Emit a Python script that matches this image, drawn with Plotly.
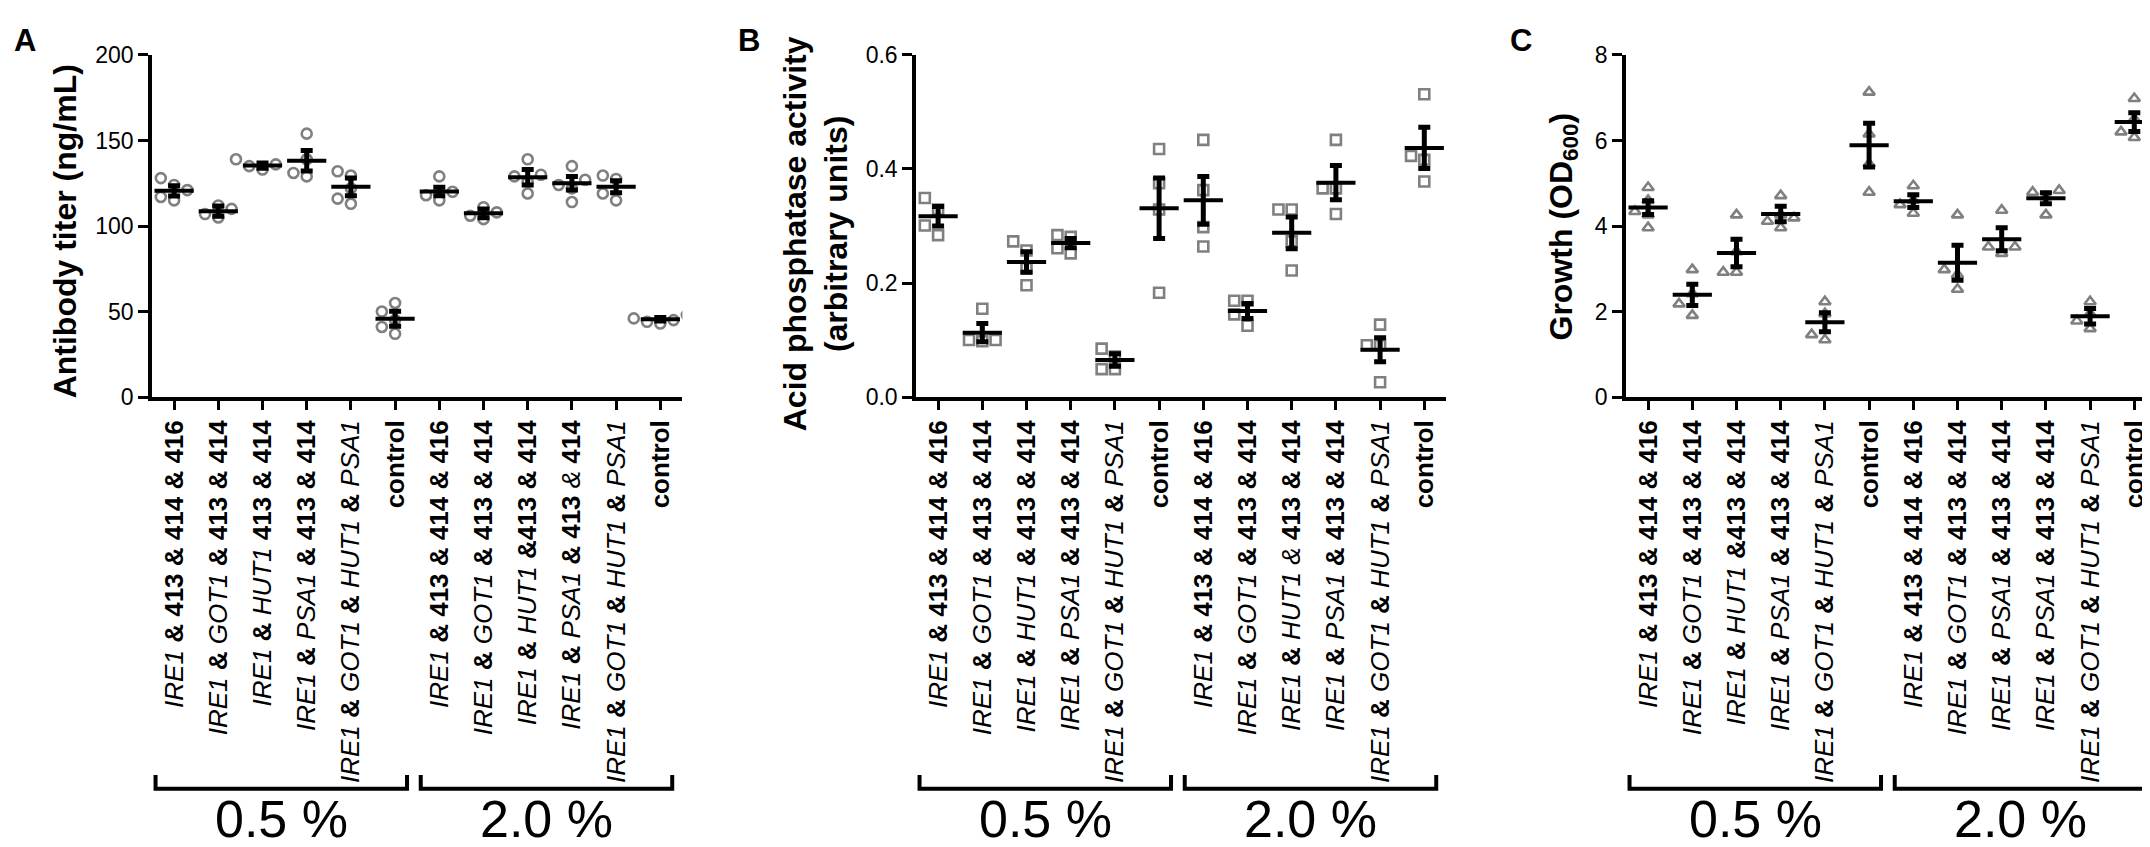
import plotly.graph_objects as go

# ---------------- data ----------------
groups = ["0.5 %", "2.0 %"]

B_ = lambda s: "<b>" + s + "</b>"
I_ = lambda s: "<i>" + s + "</i>"

labels_a = [
    I_("IRE1") + " " + B_("& 413 & 414 & 416"),
    I_("IRE1") + " " + B_("&") + " " + I_("GOT1") + " " + B_("& 413 & 414"),
    I_("IRE1") + " " + B_("&") + " " + I_("HUT1") + " " + B_("413 & 414"),
    I_("IRE1") + " " + B_("&") + " " + I_("PSA1") + " " + B_("& 413 & 414"),
    I_("IRE1") + " " + B_("&") + " " + I_("GOT1") + " " + B_("&") + " " + I_("HUT1") + " " + B_("&") + " " + I_("PSA1"),
    B_("control"),
    I_("IRE1") + " " + B_("& 413 & 414 & 416"),
    I_("IRE1") + " " + B_("&") + " " + I_("GOT1") + " " + B_("& 413 & 414"),
    I_("IRE1") + " " + B_("&") + " " + I_("HUT1") + " " + B_("&413 & 414"),
    I_("IRE1") + " " + B_("&") + " " + I_("PSA1") + " " + B_("& 413") + " " + I_("&") + " " + B_("414"),
    I_("IRE1") + " " + B_("&") + " " + I_("GOT1") + " " + B_("&") + " " + I_("HUT1") + " " + B_("&") + " " + I_("PSA1"),
    B_("control"),
]
labels_b = [
    I_("IRE1") + " " + B_("& 413 & 414 & 416"),
    I_("IRE1") + " " + B_("&") + " " + I_("GOT1") + " " + B_("& 413 & 414"),
    I_("IRE1") + " " + B_("&") + " " + I_("HUT1") + " " + B_("& 413 & 414"),
    I_("IRE1") + " " + B_("&") + " " + I_("PSA1") + " " + B_("& 413 & 414"),
    I_("IRE1") + " " + B_("&") + " " + I_("GOT1") + " " + B_("&") + " " + I_("HUT1") + " " + B_("&") + " " + I_("PSA1"),
    B_("control"),
    I_("IRE1") + " " + B_("& 413 & 414 & 416"),
    I_("IRE1") + " " + B_("&") + " " + I_("GOT1") + " " + B_("& 413 & 414"),
    I_("IRE1") + " " + B_("&") + " " + I_("HUT1") + " " + I_("&") + " " + B_("413 & 414"),
    I_("IRE1") + " " + B_("&") + " " + I_("PSA1") + " " + B_("& 413 & 414"),
    I_("IRE1") + " " + B_("&") + " " + I_("GOT1") + " " + B_("&") + " " + I_("HUT1") + " " + B_("&") + " " + I_("PSA1"),
    B_("control"),
]
labels_c = [
    I_("IRE1") + " " + B_("& 413 & 414 & 416"),
    I_("IRE1") + " " + B_("&") + " " + I_("GOT1") + " " + B_("& 413 & 414"),
    I_("IRE1") + " " + B_("&") + " " + I_("HUT1") + " " + B_("&413 & 414"),
    I_("IRE1") + " " + B_("&") + " " + I_("PSA1") + " " + B_("& 413 & 414"),
    I_("IRE1") + " " + B_("&") + " " + I_("GOT1") + " " + B_("&") + " " + I_("HUT1") + " " + B_("&") + " " + I_("PSA1"),
    B_("control"),
    I_("IRE1") + " " + B_("& 413 & 414 & 416"),
    I_("IRE1") + " " + B_("&") + " " + I_("GOT1") + " " + B_("& 413 & 414"),
    I_("IRE1") + " " + B_("&") + " " + I_("PSA1") + " " + B_("& 413 & 414"),
    I_("IRE1") + " " + B_("&") + " " + I_("PSA1") + " " + B_("& 413 & 414"),
    I_("IRE1") + " " + B_("&") + " " + I_("GOT1") + " " + B_("&") + " " + I_("HUT1") + " " + B_("&") + " " + I_("PSA1"),
    B_("control"),
]

# A: antibody titer (ng/mL)
points_a = [
    [128, 124, 121, 117, 115],
    [112, 110, 107, 105],
    [139, 136, 135, 133],
    [154, 139, 131, 129],
    [132, 129.5, 122, 116, 113],
    [55, 50, 45, 41, 37],
    [129, 120, 118, 115],
    [111, 108, 106, 104],
    [139, 130, 129, 126, 119],
    [135, 127, 124, 122, 114],
    [129.5, 127.5, 119, 115],
    [48, 46, 45, 44, 43],
]
mean_a = [120.6, 108.7, 135.3, 138.2, 122.9, 45.8, 120.2, 107.4, 128.5, 125.0, 122.9, 45.5]
sem_a = [3.0, 3.0, 1.5, 6.0, 5.2, 4.4, 2.5, 2.5, 4.5, 4.0, 3.5, 1.0]

# B: acid phosphatase activity (arbitrary units)
points_b = [
    [0.349, 0.329, 0.301, 0.284],
    [0.155, 0.100, 0.100, 0.098],
    [0.273, 0.257, 0.226, 0.196],
    [0.284, 0.281, 0.261, 0.252],
    [0.085, 0.071, 0.049, 0.049],
    [0.435, 0.375, 0.329, 0.183],
    [0.451, 0.363, 0.298, 0.264],
    [0.169, 0.169, 0.145, 0.125],
    [0.329, 0.329, 0.273, 0.222],
    [0.451, 0.366, 0.366, 0.321],
    [0.127, 0.091, 0.091, 0.026],
    [0.531, 0.423, 0.416, 0.378],
]
mean_b = [0.317, 0.113, 0.237, 0.270, 0.065, 0.331, 0.345, 0.151, 0.288, 0.376, 0.083, 0.437]
sem_b = [0.017, 0.016, 0.018, 0.008, 0.011, 0.053, 0.042, 0.013, 0.028, 0.030, 0.021, 0.036]

# C: growth (OD600)
points_c = [
    [4.90, 4.60, 4.34, 4.26, 3.96],
    [2.98, 2.42, 2.18, 1.91],
    [4.26, 3.40, 2.92, 2.92],
    [4.71, 4.26, 4.19, 4.11, 3.96],
    [2.23, 1.95, 1.46, 1.34],
    [7.13, 6.15, 5.45, 4.79],
    [4.94, 4.60, 4.50, 4.30],
    [4.26, 2.98, 2.86, 2.52],
    [4.37, 3.51, 3.51, 3.36],
    [4.83, 4.79, 4.68, 4.26],
    [2.23, 1.95, 1.78, 1.60],
    [6.98, 6.50, 6.20, 6.07],
]
mean_c = [4.43, 2.39, 3.37, 4.28, 1.75, 5.89, 4.58, 3.14, 3.69, 4.65, 1.89, 6.43]
sem_c = [0.16, 0.25, 0.32, 0.18, 0.22, 0.51, 0.15, 0.41, 0.27, 0.13, 0.18, 0.22]

# ---------------- layout helpers ----------------
W, H = 2150, 847
FONT = "Arial, Liberation Sans, sans-serif"
GREY = "#808080"
y_top, y_zero = 35, 388          # pixel rows of the axis top and zero line
cat_px = 44.2                    # pixel width of one category


def swarm(vals, px_per_unit, step=0.3, r=12.0):
    """simple beeswarm offsets (in category units) so markers do not overlap"""
    placed, offs = [], [0.0] * len(vals)
    for i in sorted(range(len(vals)), key=lambda k: vals[k]):
        for off in [0, -step, step, -2 * step, 2 * step]:
            if all(((off - o) * cat_px) ** 2 + ((vals[i] - v) * px_per_unit) ** 2 >= r * r
                   for o, v in placed):
                break
        placed.append((off, vals[i]))
        offs[i] = off
    return offs


panels = [
    dict(pts=points_a, mean=mean_a, sem=sem_a, labels=labels_a, sym="circle-open",
         yr=[0, 200], dtick=50, fmt="d", x0=144, title="<b>Antibody titer (ng/mL)</b>",
         tx=57, ty=217, letter="A", lx=4),
    dict(pts=points_b, mean=mean_b, sem=sem_b, labels=labels_b, sym="square-open",
         yr=[0, 0.6], dtick=0.2, fmt=".1f", x0=908,
         title="<b>Acid phosphatase activity<br>(arbitrary units)</b>",
         tx=808, ty=220, letter="B", lx=728),
    dict(pts=points_c, mean=mean_c, sem=sem_c, labels=labels_c, sym="triangle-up-open",
         yr=[0, 8], dtick=2, fmt="d", x0=1618, title="<b>Growth (OD<sub>600</sub>)</b>",
         tx=1555, ty=212, letter="C", lx=1500),
]

fig = go.Figure()
layout = dict(width=W, height=H, margin=dict(l=0, r=0, t=0, b=0),
              paper_bgcolor="white", plot_bgcolor="white", showlegend=False,
              font=dict(family=FONT, color="black"))
annotations, shapes = [], []

for n, p in enumerate(panels, start=1):
    sfx = "" if n == 1 else str(n)
    xa, ya = "x" + sfx, "y" + sfx
    ppu = (y_zero - y_top) / (p["yr"][1] - p["yr"][0])
    cats = list(range(len(p["labels"])))

    xs, ys = [], []
    for c, vals in zip(cats, p["pts"]):
        for off, v in zip(swarm(vals, ppu), vals):
            xs.append(c + off)
            ys.append(v)
    fig.add_trace(go.Scatter(x=xs, y=ys, mode="markers", xaxis=xa, yaxis=ya,
                             marker=dict(symbol=p["sym"], size=10, color=GREY,
                                         line=dict(width=2.6, color=GREY))))
    fig.add_trace(go.Scatter(x=cats, y=p["mean"], mode="markers", xaxis=xa, yaxis=ya,
                             marker=dict(symbol="line-ew", size=28, color="black",
                                         line=dict(width=4, color="black")),
                             error_y=dict(type="data", array=p["sem"], color="black",
                                          thickness=5, width=6)))

    x_dom = [p["x0"] / W, (p["x0"] + 12 * cat_px) / W]
    layout["xaxis" + sfx] = dict(
        domain=x_dom, range=[-0.5, 11.5], anchor=ya, tickmode="array",
        tickvals=cats, ticktext=p["labels"], tickangle=-90, ticks="outside",
        ticklen=9, tickwidth=3, tickcolor="black", showline=True, linewidth=3.5,
        linecolor="black", showgrid=False, zeroline=False,
        tickfont=dict(family=FONT, size=26, color="black"))
    layout["yaxis" + sfx] = dict(
        domain=[1 - y_zero / H, 1 - y_top / H], range=p["yr"], anchor=xa,
        dtick=p["dtick"], tickformat=p["fmt"], ticks="outside", ticklen=10, tickwidth=3,
        tickcolor="black", showline=True, linewidth=3.5, linecolor="black",
        showgrid=False, zeroline=False, tickfont=dict(family=FONT, size=23, color="black"))

    # axis title and panel letter
    annotations.append(dict(text=p["title"], xref="paper", yref="paper", x=p["tx"] / W,
                            y=1 - p["ty"] / H, xanchor="center", yanchor="middle",
                            textangle=-90, showarrow=False,
                            font=dict(family=FONT, size=32, color="black")))
    annotations.append(dict(text="<b>" + p["letter"] + "</b>", xref="paper", yref="paper",
                            x=p["lx"] / W, y=1, xanchor="left", yanchor="top",
                            showarrow=False, font=dict(family=FONT, size=31, color="black")))

    # group brackets under the tick labels
    for g, name in enumerate(groups):
        a, b = g * 6 - 0.42, g * 6 + 5 + 0.27
        ylo, yhi = 1 - 792 / H, 1 - 778 / H
        shapes.append(dict(type="path", xref=xa, yref="paper",
                           path=f"M {a},{yhi} L {a},{ylo} L {b},{ylo} L {b},{yhi}",
                           line=dict(color="black", width=4)))
        annotations.append(dict(text=name, xref=xa, yref="paper", x=(a + b) / 2,
                                y=1 - 823 / H, xanchor="center", yanchor="middle",
                                showarrow=False,
                                font=dict(family=FONT, size=52, color="black")))

layout["annotations"] = annotations
layout["shapes"] = shapes
fig.update_layout(**layout)
fig.write_html("out.html")
